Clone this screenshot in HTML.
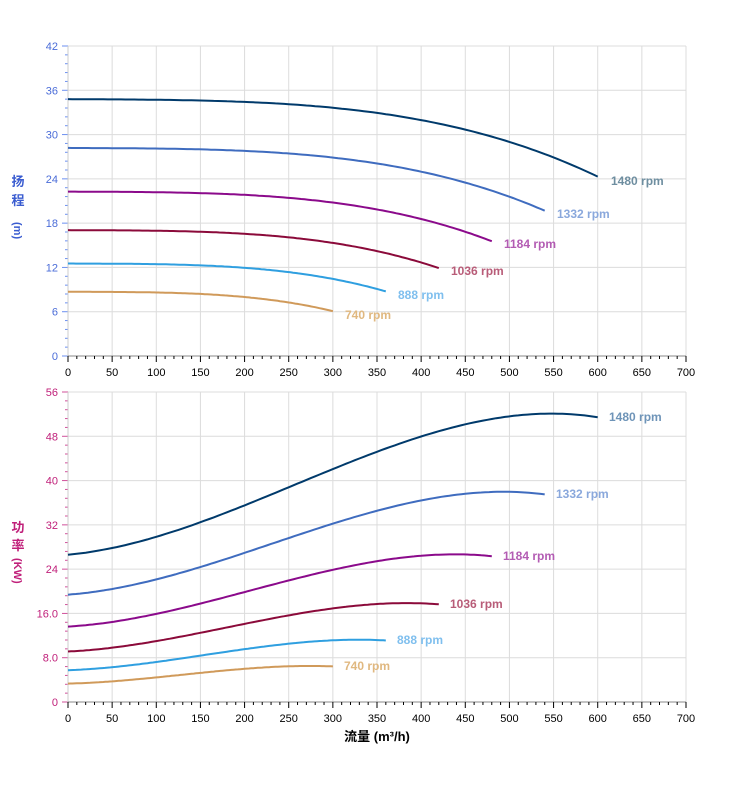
<!DOCTYPE html>
<html><head><meta charset="utf-8"><style>
html,body{margin:0;padding:0;background:#fff;width:752px;height:797px;overflow:hidden}
svg text{font-family:"Liberation Sans","Noto Sans CJK SC",sans-serif}
</style></head><body>
<svg id="s" width="752" height="797" xmlns="http://www.w3.org/2000/svg"></svg>
<script>
const S=document.getElementById('s');let h='';
const X0=68,X1=686;const xp=q=>X0+q*(X1-X0)/700;
function axes(top,bot,max,step,col,tickcol){
  const yp=v=>bot-v*(bot-top)/max;
  for(let q=0;q<=700;q+=50){h+=`<line x1="${xp(q)}" y1="${top}" x2="${xp(q)}" y2="${bot}" stroke="#dcdcdc" stroke-width="1"/>`;}
  for(let v=0;v<=max;v+=step){h+=`<line x1="${X0}" y1="${yp(v)}" x2="${X1}" y2="${yp(v)}" stroke="#dcdcdc" stroke-width="1"/>`;
    h+=`<line x1="${X0-6}" y1="${yp(v)}" x2="${X0}" y2="${yp(v)}" stroke="${tickcol}" stroke-width="1"/>`;
    h+=`<text x="${X0-10}" y="${yp(v)+4}" font-size="11" fill="${col}" text-anchor="end">${(max==56&&(v==8||v==16))?v.toFixed(1):v}</text>`;}
  for(let v=0;v<max;v+=step/5){if(Math.abs(v/step-Math.round(v/step))<1e-6)continue;h+=`<line x1="${X0-3}" y1="${yp(v)}" x2="${X0}" y2="${yp(v)}" stroke="${tickcol}" stroke-width="1"/>`;}
  h+=`<line x1="${X0}" y1="${top}" x2="${X0}" y2="${bot}" stroke="#ccc"/>`;
  h+=`<line x1="${X0}" y1="${bot}" x2="${X1}" y2="${bot}" stroke="#888"/>`;
  for(let q=0;q<=700;q+=10){const L=q%50==0?6:3;h+=`<line x1="${xp(q)}" y1="${bot}" x2="${xp(q)}" y2="${bot+L}" stroke="#000"/>`;}
  for(let q=0;q<=700;q+=50)h+=`<text x="${xp(q)}" y="${bot+20}" font-size="11" fill="#000" text-anchor="middle">${q}</text>`;
  return yp;
}
const ypH=axes(46,356,42,6,'#4a6cd8','#6b8ff0');
const ypP=axes(392,702,56,8,'#c0207a','#d0509a');
const Hf=q=>34.8-0.0006*q-10.14*Math.pow(q/600,3.36);
const Pf=q=>26.6+0.015*q+2.0e-4*q*q-2.6e-7*q*q*q;
const runs=[[1480,'#003a6b','#6e8ea0','#6e94b8',[611,181],[609,417]],[1332,'#3f6cbf','#8aa8dc','#8aa8dc',[557,214],[556,494]],
[1184,'#8b0a8b','#b35cb3','#b35cb3',[504,244],[503,556]],[1036,'#8b0a3a','#b85c78','#b85c78',[451,271],[450,604]],
[888,'#2f9fe0','#7fbfee','#7fbfee',[398,295],[397,640]],[740,'#d09a5a','#e0b880','#e0b880',[345,315],[344,666]]];
for(const[n,c,l1,l2,p1,p2]of runs){const r=n/1480;let a='',b='';
 for(let q=0;q<=600;q+=5){const Q=q*r;a+=(q?'L':'M')+xp(Q).toFixed(1)+','+ypH(Hf(q)*r*r).toFixed(1);b+=(q?'L':'M')+xp(Q).toFixed(1)+','+ypP(Pf(q)*r*r*r).toFixed(1);}
 h+=`<path d="${a}" fill="none" stroke="${c}" stroke-width="2"/><path d="${b}" fill="none" stroke="${c}" stroke-width="2"/>`;
 h+=`<text x="${p1[0]}" y="${p1[1]+4}" font-size="12" font-weight="bold" fill="${l1}">${n} rpm</text>`;
 h+=`<text x="${p2[0]}" y="${p2[1]+4}" font-size="12" font-weight="bold" fill="${l2}">${n} rpm</text>`;}
h+=`<text x="18" y="186" font-size="13" fill="#3a5cd0" text-anchor="middle" font-weight="bold">扬</text><text x="18" y="205" font-size="13" fill="#3a5cd0" text-anchor="middle" font-weight="bold">程</text>`;
h+=`<text transform="translate(14,222) rotate(90)" font-size="11" fill="#3a5cd0" font-weight="bold">(m)</text>`;
h+=`<text x="18" y="532" font-size="13" fill="#c0207a" text-anchor="middle" font-weight="bold">功</text><text x="18" y="550" font-size="13" fill="#c0207a" text-anchor="middle" font-weight="bold">率</text>`;
h+=`<text transform="translate(14,558) rotate(90)" font-size="11" fill="#c0207a" font-weight="bold">(KW)</text>`;
h+=`<text x="377" y="741" font-size="13" font-weight="bold" fill="#000" text-anchor="middle">流量 (m³/h)</text>`;
S.innerHTML=h;
</script>
</body></html>
